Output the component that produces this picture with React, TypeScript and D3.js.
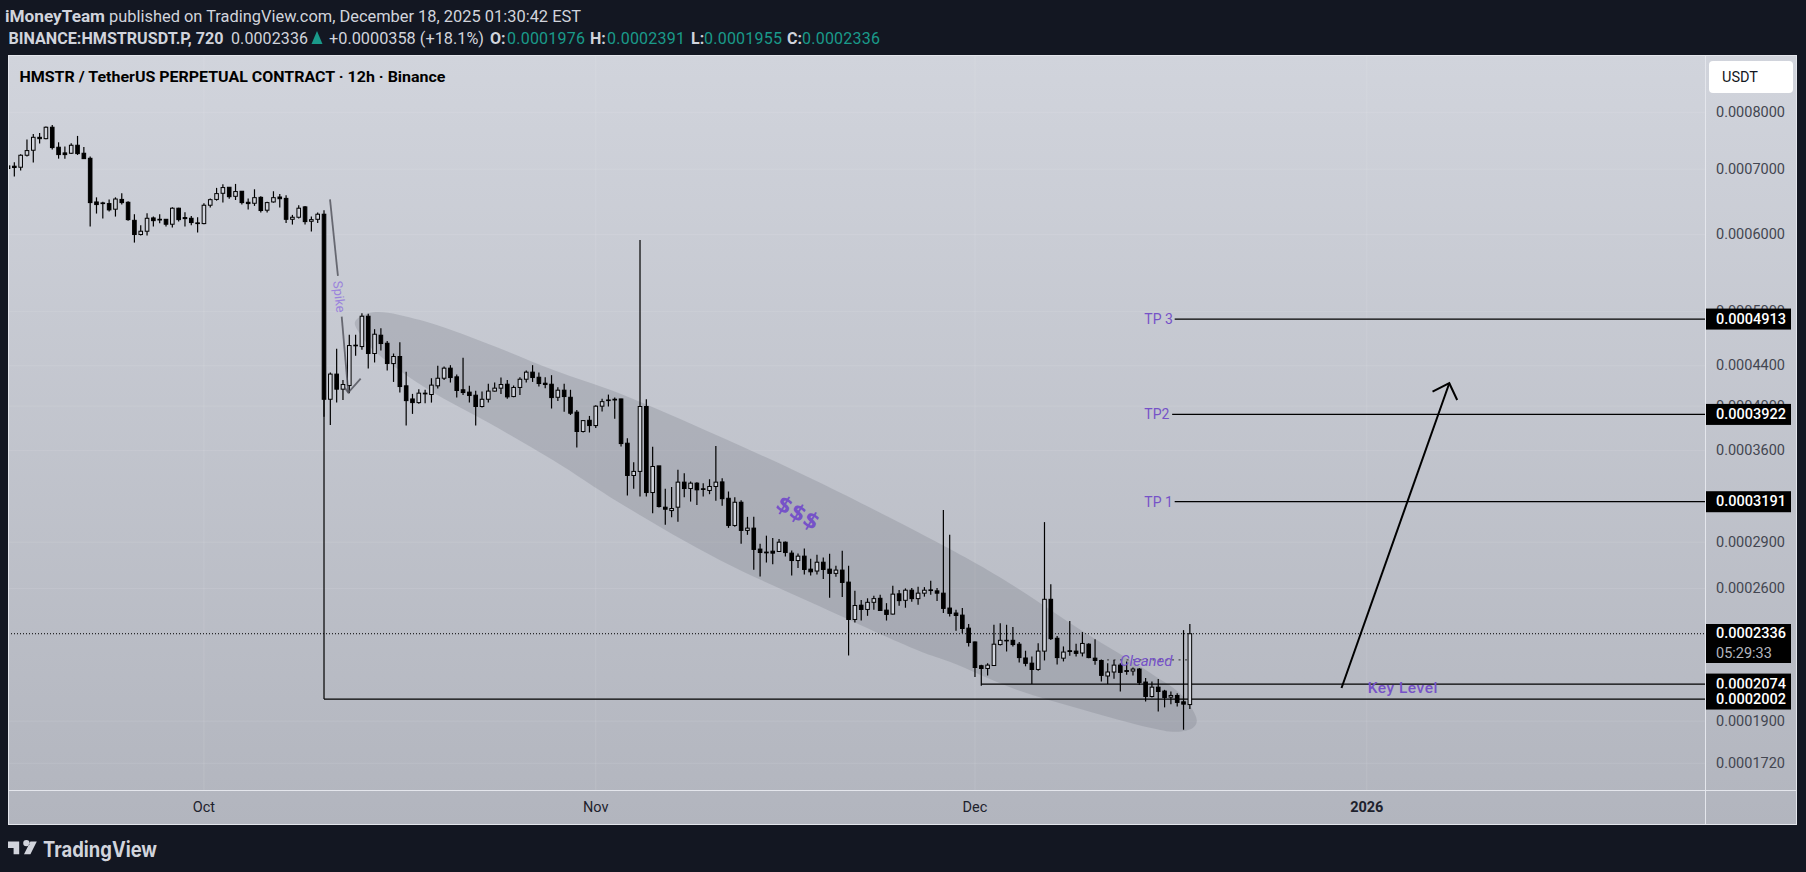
import * as d3 from 'd3'

// all prices are in units of 0.0001 USDT, bars are 12h
const opens = [
  7.055, 7.05, 7.033, 7.235, 7.321, 7.548, 7.524, 7.73, 7.373, 7.275,
  7.269, 7.408, 7.269, 7.183, 6.479, 6.464, 6.454, 6.369, 6.518, 6.474,
  6.204, 5.999, 6.046, 6.239, 6.219, 6.219, 6.147, 6.384, 6.244, 6.234,
  6.166, 6.156, 6.429, 6.518, 6.613, 6.708, 6.566, 6.645, 6.474, 6.459,
  6.55, 6.354, 6.479, 6.555, 6.534, 6.219, 6.249, 6.404, 6.19, 6.219,
  6.294, 4.065, 4.314, 4.163, 4.199, 4.619, 4.604, 4.946, 4.529, 4.729,
  4.64, 4.423, 4.497, 4.196, 4.068, 4.033, 4.124, 4.111, 4.196, 4.272,
  4.375, 4.286, 4.157, 4.134, 4.104, 3.996, 4.065, 4.144, 4.173, 4.212,
  4.091, 4.18, 4.262, 4.334, 4.282, 4.222, 4.212, 4.084, 4.153, 4.084,
  3.943, 3.767, 3.868, 3.82, 3.999, 4.058, 4.065, 4.068, 3.664, 3.395,
  3.428, 3.996, 3.261, 3.473, 3.15, 3.125, 3.15, 3.342, 3.292, 3.334,
  3.29, 3.277, 3.308, 3.344, 3.217, 3.017, 3.187, 2.982, 2.998, 2.853,
  2.833, 2.839, 2.837, 2.9, 2.826, 2.777, 2.806, 2.721, 2.709, 2.766,
  2.721, 2.694, 2.715, 2.639, 2.416, 2.499, 2.474, 2.516, 2.54, 2.47,
  2.447, 2.567, 2.528, 2.589, 2.538, 2.571, 2.591, 2.585, 2.571, 2.482,
  2.453, 2.441, 2.367, 2.291, 2.166, 2.152, 2.167, 2.277, 2.3, 2.3,
  2.279, 2.206, 2.179, 2.147, 2.242, 2.534, 2.311, 2.205, 2.244, 2.242,
  2.232, 2.279, 2.205, 2.193, 2.114, 2.134, 2.169, 2.141, 2.139, 2.149,
  2.084, 2.014, 2.059, 2.04, 2.011, 2.019, 1.989, 1.976,
]
const highs = [
  7.07, 7.116, 7.252, 7.511, 7.608, 7.626, 7.742, 7.772, 7.46, 7.385,
  7.442, 7.573, 7.379, 7.212, 6.55, 6.484, 6.518, 6.55, 6.613, 6.489,
  6.294, 6.133, 6.309, 6.259, 6.294, 6.219, 6.399, 6.39, 6.324, 6.269,
  6.249, 6.459, 6.534, 6.698, 6.755, 6.708, 6.761, 6.65, 6.534, 6.676,
  6.566, 6.484, 6.645, 6.603, 6.582, 6.284, 6.429, 6.419, 6.259, 6.319,
  6.354, 4.331, 4.579, 4.255, 4.733, 4.733, 4.982, 4.974, 4.797, 4.808,
  4.665, 4.529, 4.651, 4.338, 4.117, 4.163, 4.157, 4.272, 4.399, 4.392,
  4.406, 4.31, 4.483, 4.196, 4.147, 4.14, 4.216, 4.229, 4.279, 4.255,
  4.199, 4.282, 4.351, 4.406, 4.33, 4.282, 4.303, 4.183, 4.216, 4.157,
  3.964, 3.871, 3.908, 4.008, 4.071, 4.11, 4.081, 4.071, 3.707, 3.503,
  5.922, 4.065, 3.633, 3.473, 3.29, 3.303, 3.441, 3.414, 3.347, 3.342,
  3.334, 3.365, 3.641, 3.373, 3.269, 3.225, 3.202, 3.079, 3.079, 2.889,
  2.945, 2.929, 2.922, 2.905, 2.844, 2.824, 2.857, 2.788, 2.815, 2.797,
  2.822, 2.743, 2.842, 2.743, 2.585, 2.53, 2.54, 2.555, 2.561, 2.511,
  2.616, 2.591, 2.6, 2.602, 2.61, 2.608, 2.647, 2.602, 3.13, 2.951,
  2.472, 2.482, 2.39, 2.293, 2.171, 2.179, 2.386, 2.395, 2.386, 2.373,
  2.291, 2.244, 2.214, 2.284, 3.041, 2.626, 2.324, 2.267, 2.408, 2.281,
  2.345, 2.284, 2.306, 2.198, 2.179, 2.196, 2.179, 2.188, 2.157, 2.154,
  2.104, 2.087, 2.099, 2.046, 2.038, 2.03, 2.356, 2.391,
]
const lows = [
  6.99, 6.879, 6.978, 7.212, 7.11, 7.437, 7.512, 7.333, 7.177, 7.177,
  7.258, 7.24, 7.171, 6.113, 6.304, 6.229, 6.334, 6.259, 6.439, 6.199,
  5.886, 5.984, 5.984, 6.113, 6.161, 6.113, 6.099, 6.185, 6.113, 6.133,
  6.027, 6.147, 6.394, 6.499, 6.469, 6.529, 6.509, 6.439, 6.364, 6.419,
  6.319, 6.319, 6.469, 6.394, 6.166, 6.142, 6.229, 6.142, 6.042, 6.166,
  3.9, 3.826, 4.033, 4.058, 4.124, 4.504, 4.569, 4.372, 4.434, 4.562,
  4.351, 4.235, 4.13, 3.82, 3.927, 4.021, 4.027, 4.033, 4.17, 4.255,
  4.229, 4.081, 4.107, 4.033, 3.82, 3.986, 4.033, 4.14, 4.117, 4.071,
  4.084, 4.107, 4.229, 4.235, 4.189, 4.173, 3.977, 4.049, 3.946, 3.917,
  3.627, 3.758, 3.758, 3.799, 3.949, 3.996, 3.883, 3.635, 3.238, 3.29,
  3.23, 3.23, 3.106, 3.148, 3.022, 3.076, 3.043, 3.225, 3.192, 3.167,
  3.23, 3.248, 3.199, 3.16, 3.0, 3.008, 2.889, 2.951, 2.717, 2.675,
  2.764, 2.753, 2.833, 2.803, 2.681, 2.728, 2.687, 2.681, 2.687, 2.659,
  2.544, 2.672, 2.548, 2.219, 2.399, 2.41, 2.437, 2.472, 2.466, 2.41,
  2.445, 2.495, 2.484, 2.52, 2.501, 2.55, 2.561, 2.524, 2.453, 2.433,
  2.352, 2.339, 2.267, 2.109, 2.066, 2.117, 2.166, 2.272, 2.24, 2.267,
  2.183, 2.163, 2.074, 2.14, 2.193, 2.302, 2.172, 2.188, 2.217, 2.214,
  2.214, 2.205, 2.171, 2.087, 2.074, 2.1, 2.038, 2.12, 2.117, 2.069,
  1.99, 2.009, 1.944, 1.963, 1.977, 1.967, 1.862, 1.955,
]
const closes = [
  7.011, 7.028, 7.235, 7.315, 7.548, 7.524, 7.73, 7.367, 7.246, 7.246,
  7.408, 7.263, 7.177, 6.469, 6.439, 6.454, 6.359, 6.524, 6.469, 6.214,
  5.999, 6.046, 6.234, 6.199, 6.209, 6.147, 6.384, 6.214, 6.229, 6.171,
  6.156, 6.429, 6.514, 6.608, 6.703, 6.56, 6.64, 6.469, 6.454, 6.545,
  6.349, 6.469, 6.545, 6.529, 6.219, 6.249, 6.384, 6.185, 6.214, 6.294,
  4.065, 4.314, 4.163, 4.209, 4.615, 4.612, 4.946, 4.529, 4.74, 4.637,
  4.423, 4.497, 4.189, 4.052, 4.033, 4.124, 4.117, 4.203, 4.272, 4.375,
  4.279, 4.15, 4.13, 4.101, 3.996, 4.065, 4.144, 4.173, 4.209, 4.088,
  4.18, 4.262, 4.334, 4.279, 4.219, 4.209, 4.081, 4.153, 4.091, 3.933,
  3.767, 3.865, 3.82, 3.999, 4.042, 4.055, 4.058, 3.661, 3.395, 3.428,
  3.996, 3.261, 3.468, 3.155, 3.135, 3.14, 3.342, 3.292, 3.334, 3.282,
  3.285, 3.308, 3.342, 3.214, 3.017, 3.187, 2.982, 2.998, 2.851, 2.83,
  2.828, 2.826, 2.9, 2.83, 2.777, 2.806, 2.719, 2.704, 2.766, 2.719,
  2.694, 2.715, 2.637, 2.416, 2.497, 2.474, 2.516, 2.538, 2.468, 2.445,
  2.565, 2.526, 2.589, 2.538, 2.571, 2.589, 2.587, 2.571, 2.48, 2.451,
  2.439, 2.365, 2.288, 2.157, 2.152, 2.169, 2.279, 2.3, 2.297, 2.277,
  2.208, 2.178, 2.147, 2.242, 2.534, 2.309, 2.208, 2.237, 2.24, 2.23,
  2.283, 2.208, 2.193, 2.117, 2.134, 2.169, 2.132, 2.137, 2.149, 2.082,
  2.014, 2.059, 2.038, 2.009, 2.019, 1.986, 1.978, 2.336,
]

const priceTicks = [8, 7, 6, 5, 4.4, 4, 3.6, 2.9, 2.6, 1.9, 1.72]
const timeTicks = [
  { bar: 31, label: 'Oct', bold: false },
  { bar: 93, label: 'Nov', bold: false },
  { bar: 153, label: 'Dec', bold: false },
  { bar: 215, label: '2026', bold: true },
]
const targets = [
  { label: 'TP 3', price: 4.913, lineFrom: 184.6 },
  { label: 'TP2', price: 3.922, lineFrom: 184.2 },
  { label: 'TP 1', price: 3.191, lineFrom: 184.6 },
]
const lastPrice = 2.336
const keyLevels = [
  { price: 2.074, from: 154 },
  { price: 2.002, from: 50 },
]
const priceBadges = [4.913, 3.922, 3.191, 2.074, 2.002]

// drawings are stored as [bar, price]
const channel: [number, number][] = [
  [54.9, 4.88], [57.75, 4.992], [65.2, 4.903], [75.7, 4.641], [86.2, 4.358], [96.8, 4.12],
  [112.6, 3.722], [128.5, 3.337], [152.2, 2.781], [159.6, 2.604], [170.1, 2.348], [180.7, 2.13],
  [185.9, 2.014], [188.1, 1.902], [187.5, 1.871], [184.9, 1.853], [180.7, 1.871], [170.1, 1.952],
  [159.6, 2.046], [149.1, 2.185], [144.4, 2.24], [128.5, 2.491], [112.6, 2.781], [96.8, 3.182],
  [86.2, 3.522], [75.7, 3.856], [66.8, 4.147], [58.3, 4.536], [56, 4.713],
]
const spikeTop: [number, number][] = [[50.95, 6.519], [52.2, 5.44]]
const spikeBottom: [number, number][] = [[52.8, 4.942], [53.84, 4.13]]
const spikeHead: [number, number][] = [[53.3, 4.176], [53.84, 4.13], [55.8, 4.268]]
const bigArrow: [number, number][] = [[211, 2.055], [228.05, 4.222]]
const bigArrowHead: [number, number][] = [[225.4, 4.14], [228.05, 4.222], [229.3, 4.058]]

const FONT = 'Roboto, sans-serif'
const PURPLE = '#7652c8'
const TEAL = '#1a9a8a'

const x = d3.scaleLinear().domain([0, 187]).range([8.01, 1189.85])
const y = d3.scaleLog().domain([8, 1.72]).range([112.7, 763.3])
const fmt = (p: number) => (p / 10000).toFixed(7)

const pathLine = d3.line<[number, number]>().x(d => x(d[0])).y(d => y(d[1]))
const channelPath = d3
  .line<[number, number]>()
  .x(d => x(d[0]))
  .y(d => y(d[1]))
  .curve(d3.curveCatmullRomClosed.alpha(0.5))

const left = 8
const right = 1797
const top = 55
const bottom = 825
const axisX = 1705
const axisY = 790

function Badge({ price }: { price: number }) {
  return (
    <g>
      <rect x={axisX + 1} y={y(price) - 10.5} width={85} height={21} fill="#000" />
      <text x={1716} y={y(price)} dominantBaseline="central" fontSize={14.5} fontWeight={500} fill="#fff">
        {fmt(price)}
      </text>
    </g>
  )
}

export default function App() {
  return (
    <svg
      width={1806}
      height={872}
      style={{ position: 'absolute', left: 0, top: 0, background: '#131722', fontFamily: FONT }}
    >
      <defs>
        <linearGradient id="bg" x1="0" y1="0" x2="0" y2="1">
          <stop offset="0" stopColor="#d1d4dc" />
          <stop offset="1" stopColor="#b2b5be" />
        </linearGradient>
        <clipPath id="plot">
          <rect x={left} y={top} width={axisX - left} height={axisY - top} />
        </clipPath>
      </defs>

      {/* header */}
      <g fontSize={16} fill="#d1d4dc" dominantBaseline="central">
        <text x={5} y={16} fontWeight={700} textLength={100} lengthAdjust="spacingAndGlyphs">iMoneyTeam</text>
        <text x={109} y={16} textLength={472} lengthAdjust="spacingAndGlyphs">published on TradingView.com, December 18, 2025 01:30:42 EST</text>
        <text x={8.5} y={38} fontWeight={700} textLength={215} lengthAdjust="spacingAndGlyphs">BINANCE:HMSTRUSDT.P, 720</text>
        <text x={231} y={38} textLength={77}>0.0002336</text>
        <path d="M311.5,44 L317,31 L322.5,44 Z" fill={TEAL} />
        <text x={329} y={38} textLength={155} lengthAdjust="spacingAndGlyphs">+0.0000358 (+18.1%)</text>
        <text x={490} y={38} fontWeight={700}>O:</text>
        <text x={507} y={38} fill={TEAL} textLength={78}>0.0001976</text>
        <text x={590} y={38} fontWeight={700}>H:</text>
        <text x={607} y={38} fill={TEAL} textLength={78}>0.0002391</text>
        <text x={691} y={38} fontWeight={700}>L:</text>
        <text x={704} y={38} fill={TEAL} textLength={78}>0.0001955</text>
        <text x={787} y={38} fontWeight={700}>C:</text>
        <text x={802} y={38} fill={TEAL} textLength={78}>0.0002336</text>
      </g>

      {/* panel */}
      <rect x={left} y={top} width={right - left} height={bottom - top} fill="url(#bg)" />

      {/* grid */}
      <g stroke="#fff" strokeOpacity={0.1}>
        {priceTicks.map(t => (
          <line key={t} x1={left} x2={axisX} y1={y(t)} y2={y(t)} />
        ))}
        {timeTicks.map(t => (
          <line key={t.label} x1={x(t.bar)} x2={x(t.bar)} y1={top} y2={axisY} />
        ))}
      </g>

      <g clipPath="url(#plot)">
        <path d={channelPath(channel) ?? ''} fill="#787b86" fillOpacity={0.28} />

        {/* last price */}
        <line x1={left} x2={axisX} y1={y(lastPrice)} y2={y(lastPrice)} stroke="#000" strokeDasharray="1 2" />

        {/* Cleaned */}
        <line x1={x(173.9)} x2={x(186.7)} y1={y(2.196)} y2={y(2.196)} stroke="#333" strokeDasharray="2 4.5" />

        {/* levels */}
        {keyLevels.map(l => (
          <line key={l.price} x1={x(l.from)} x2={axisX} y1={y(l.price)} y2={y(l.price)} stroke="#000" strokeWidth={1.2} />
        ))}
        <line x1={x(50)} x2={x(50)} y1={y(4.065)} y2={y(2.002)} stroke="#000" strokeWidth={1.2} />
        {targets.map(t => (
          <g key={t.label}>
            <line x1={x(t.lineFrom)} x2={axisX} y1={y(t.price)} y2={y(t.price)} stroke="#000" strokeWidth={1.2} />
            <text x={x(179.8)} y={y(t.price)} dominantBaseline="central" fontSize={14} fill={PURPLE}>
              {t.label}
            </text>
          </g>
        ))}

        {/* candles */}
        {opens.map((o, i) => {
          const c = closes[i]
          const up = c > o
          const t = y(Math.max(o, c))
          const b = y(Math.min(o, c))
          return (
            <g key={i}>
              <line x1={x(i)} x2={x(i)} y1={y(highs[i])} y2={y(lows[i])} stroke="#000" strokeWidth={1.2} />
              <rect
                x={x(i) - 1.8}
                y={t}
                width={3.6}
                height={Math.max(b - t, 0.6)}
                fill={up ? '#d1d4dc' : '#000'}
                stroke="#000"
              />
            </g>
          )
        })}

        {/* drawings */}
        <g fill="none" stroke="#4d4f57" strokeOpacity={0.8} strokeWidth={1.8}>
          <path d={pathLine(spikeTop) ?? ''} />
          <path d={pathLine(spikeBottom) ?? ''} />
          <path d={pathLine(spikeHead) ?? ''} />
        </g>
        <text
          transform={`translate(${x(52.4)},${y(5.181)}) rotate(84)`}
          textAnchor="middle"
          dominantBaseline="central"
          fontSize={13}
          fill="#9a83dc"
        >
          Spike
        </text>
        <g fill="none" stroke="#000" strokeWidth={2}>
          <path d={pathLine(bigArrow) ?? ''} />
          <path d={pathLine(bigArrowHead) ?? ''} />
        </g>
        <text
          transform={`translate(${x(125)},${y(3.11)}) rotate(30)`}
          textAnchor="middle"
          dominantBaseline="central"
          fontSize={22}
          fontWeight={700}
          fontFamily="DejaVu Sans"
          fill={PURPLE}
        >
          $$$
        </text>
        <text x={x(180.1)} y={y(2.192)} textAnchor="middle" dominantBaseline="central" fontSize={15} fontStyle="italic" fill={PURPLE}>
          Cleaned
        </text>
        <text x={x(220.7)} y={y(2.057)} textAnchor="middle" dominantBaseline="central" fontSize={15.5} letterSpacing={0.5} fontWeight={500} fill={PURPLE}>
          Key Level
        </text>
      </g>

      {/* axes */}
      <g stroke="#e4e6ec" fill="none">
        <rect x={left + 0.5} y={top + 0.5} width={right - left - 1} height={bottom - top - 1} />
        <line x1={axisX + 0.5} x2={axisX + 0.5} y1={top} y2={bottom} />
        <line x1={left} x2={right} y1={axisY + 0.5} y2={axisY + 0.5} />
      </g>
      <rect x={1709} y={61} width={84} height={32} rx={4} fill="#fff" />
      <text x={1722} y={77} dominantBaseline="central" fontSize={14.5} fill="#131722">USDT</text>
      {priceTicks.map(t => (
        <text key={t} x={1716} y={y(t)} dominantBaseline="central" fontSize={14.5} fill="#434651">
          {fmt(t)}
        </text>
      ))}
      {timeTicks.map(t => (
        <text
          key={t.label}
          x={x(t.bar)}
          y={807}
          textAnchor="middle"
          dominantBaseline="central"
          fontSize={14.5}
          fontWeight={t.bold ? 700 : 400}
          fill="#1e222d"
        >
          {t.label}
        </text>
      ))}
      {priceBadges.map(p => (
        <Badge key={p} price={p} />
      ))}
      <rect x={axisX + 1} y={624} width={85} height={39} fill="#000" />
      <text x={1716} y={y(lastPrice)} dominantBaseline="central" fontSize={14.5} fontWeight={500} fill="#fff">
        {fmt(lastPrice)}
      </text>
      <text x={1716} y={653} dominantBaseline="central" fontSize={14.5} fill="#b2b5be">05:29:33</text>

      <text x={19.5} y={76.5} dominantBaseline="central" fontSize={15.5} fontWeight={700} fill="#000" textLength={426} lengthAdjust="spacingAndGlyphs">
        HMSTR / TetherUS PERPETUAL CONTRACT · 12h · Binance
      </text>

      {/* logo */}
      <path
        transform="translate(8,836.7) scale(0.8)"
        d="M14 6H0v8h7v8h7V6Zm14 16h-8l8-16h8l-8 16Zm-5-10a4 4 0 1 0 0-8 4 4 0 0 0 0 8Z"
        fill="#d1d4dc"
      />
      <text x={43} y={849} dominantBaseline="central" fontFamily="Inter" fontSize={21} fontWeight={700} fill="#d1d4dc" textLength={114} lengthAdjust="spacingAndGlyphs">
        TradingView
      </text>
    </svg>
  )
}
